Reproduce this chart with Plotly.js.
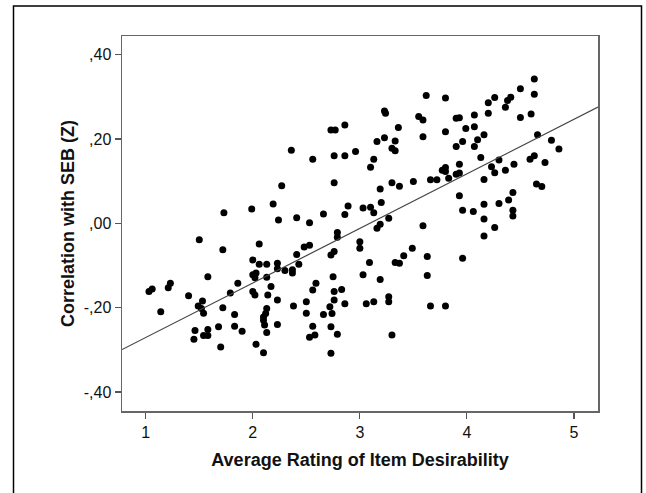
<!DOCTYPE html>
<html>
<head>
<meta charset="utf-8">
<script src="https://cdn.plot.ly/plotly-3.0.1.min.js"></script>
<style>
html,body{margin:0;padding:0;background:#fff;}
#chart{width:646px;height:493px;}
</style>
</head>
<body>
<div id="chart"></div>
<script>
// Average rating of item desirability (x) vs correlation with SEB (Z) (y)
const desirability = [
  1.03,1.06,1.14,1.21,1.23,1.40,1.50,1.53,1.49,1.52,1.54,1.46,1.45,1.54,1.58,1.58,
  1.58,1.72,1.68,1.70,1.72,1.73,1.79,1.83,1.83,1.86,1.90,
  1.99,2.00,2.06,2.06,2.13,2.00,2.02,2.03,2.00,2.02,2.03,2.10,
  2.13,2.14,2.17,2.13,2.12,2.10,2.10,2.11,2.13,
  2.19,2.24,2.23,2.23,2.23,2.23,2.27,2.30,2.36,2.37,2.37,2.38,2.41,2.41,2.43,2.48,2.50,2.50,
  2.53,2.53,2.53,2.56,2.56,2.59,2.56,2.58,2.66,2.66,
  2.73,2.77,2.76,2.76,2.86,2.86,2.96,
  2.73,2.76,2.75,2.76,2.76,2.72,2.74,2.73,2.73,2.79,2.79,2.79,2.83,2.86,2.86,2.89,
  3.00,3.00,3.03,3.10,3.13,3.20,3.27,3.19,3.16,
  3.09,3.33,3.37,3.41,3.49,
  3.03,3.19,3.06,3.13,3.27,3.27,3.30,
  3.23,3.24,3.16,3.23,3.33,3.36,3.30,3.33,3.13,3.10,3.19,3.30,3.37,3.50,
  3.55,3.59,3.62,3.59,3.66,3.72,3.80,3.80,3.77,3.80,3.80,3.83,3.90,3.93,3.90,3.90,3.93,3.93,3.96,3.93,3.96,3.99,
  3.59,3.63,3.63,3.66,3.80,3.96,
  4.07,4.07,4.07,4.10,4.06,4.16,4.13,4.16,4.16,4.16,4.16,4.20,4.20,4.26,4.23,4.26,4.30,4.30,4.26,
  4.36,4.38,4.41,4.36,4.44,4.39,4.43,4.43,4.43,4.50,4.50,4.60,4.63,4.63,4.59,4.63,4.66,4.65,4.70,4.73,4.79,4.86
];
const correlationSEB = [
  -0.162,-0.156,-0.210,-0.153,-0.142,-0.172,-0.039,-0.184,-0.196,-0.202,-0.213,-0.254,-0.275,-0.266,-0.266,-0.252,
  -0.127,-0.200,-0.245,-0.293,-0.063,0.025,-0.165,-0.216,-0.244,-0.142,-0.256,
  0.034,-0.087,-0.049,-0.097,-0.097,-0.122,-0.129,-0.118,-0.162,-0.170,-0.287,-0.307,
  -0.128,-0.170,-0.150,-0.202,-0.214,-0.222,-0.230,-0.241,-0.259,
  0.046,0.008,-0.095,-0.108,-0.182,-0.240,0.089,-0.112,0.173,-0.110,-0.118,-0.196,0.013,-0.074,-0.097,-0.056,-0.186,-0.213,
  0.001,-0.052,-0.270,0.152,-0.158,-0.142,-0.244,-0.265,0.022,-0.216,
  0.221,0.221,0.096,0.160,0.233,0.160,0.170,
  -0.075,-0.067,-0.127,-0.162,-0.182,-0.198,-0.214,-0.245,-0.308,-0.263,-0.022,-0.033,-0.157,-0.191,0.021,0.041,
  -0.044,-0.059,0.036,0.038,0.025,0.049,0.012,-0.002,-0.012,
  -0.093,-0.093,-0.095,-0.077,-0.059,
  -0.122,-0.133,-0.191,-0.186,-0.174,-0.186,-0.265,
  0.266,0.261,0.194,0.203,0.195,0.227,0.178,0.172,0.152,0.133,0.081,0.096,0.088,0.099,
  0.253,0.245,0.303,0.205,0.103,0.103,0.297,0.217,0.126,0.132,0.123,0.107,0.249,0.250,0.182,0.116,0.119,0.140,0.194,0.065,0.031,0.225,
  -0.006,-0.079,-0.124,-0.196,-0.196,-0.083,
  0.257,0.229,0.182,0.198,0.028,0.210,0.156,0.104,0.045,0.010,-0.030,0.286,0.261,0.298,0.134,0.120,0.150,0.047,-0.010,
  0.275,0.291,0.299,0.126,0.140,0.055,0.073,0.031,0.017,0.319,0.251,0.259,0.342,0.306,0.152,0.160,0.210,0.093,0.087,0.144,0.197,0.176
];
// Fit line: y = intercept + slope * x
const fitIntercept = [-0.400];
const fitSlope = [0.1293];
const xTickVals = [1,2,3,4,5];
const xTickText = ['1','2','3','4','5'];
const yTickVals = [0.4,0.2,0,-0.2,-0.4];
const yTickText = [',40',',20',',00','-,20','-,40'];

const xRange = [0.778, 5.225];
const yRange = [-0.445, 0.444];

const fitX = xRange.slice();
const fitY = fitX.map(x => fitIntercept[0] + fitSlope[0]*x);

const traces = [
  {
    x: desirability, y: correlationSEB, type: 'scatter', mode: 'markers',
    marker: {color: '#000', size: 7, line: {width: 0}},
    hoverinfo: 'x+y', showlegend: false
  },
  {
    x: fitX, y: fitY, type: 'scatter', mode: 'lines',
    line: {color: '#444', width: 1.2}, hoverinfo: 'skip', showlegend: false
  }
];

const fam = 'Liberation Sans, Arial, sans-serif';
const tickFont = {family: fam, size: 16, color: '#111'};
const titleFont = {family: fam, size: 18, color: '#111'};
const layout = {
  width: 646, height: 493,
  margin: {l: 122, r: 48, t: 36, b: 82},
  paper_bgcolor: '#fff', plot_bgcolor: '#fff',
  font: {family: fam, color: '#000'},
  xaxis: {
    range: xRange, tickvals: xTickVals, ticktext: xTickText,
    ticks: 'outside', ticklen: 6, tickwidth: 1.2, tickcolor: '#555',
    showline: true, mirror: true, linecolor: '#666', linewidth: 1.5,
    showgrid: false, zeroline: false,
    tickfont: tickFont,
    title: {text: '<b>Average Rating of Item Desirability</b>', font: titleFont, standoff: 13}
  },
  yaxis: {
    range: yRange, tickvals: yTickVals, ticktext: yTickText,
    ticks: 'outside', ticklen: 6, tickwidth: 1.2, tickcolor: '#555',
    showline: true, mirror: true, linecolor: '#666', linewidth: 1.5,
    showgrid: false, zeroline: false,
    tickfont: tickFont,
    title: {text: '<b>Correlation with SEB (Z)</b>', font: titleFont, standoff: 4}
  },
  shapes: [{
    type: 'rect', xref: 'paper', yref: 'paper',
    x0: (13.5-122)/476, x1: (641.5-122)/476,
    y0: (411-520)/375, y1: (411-6)/375,
    line: {color: '#000', width: 1.5}, fillcolor: 'rgba(0,0,0,0)', layer: 'below'
  }]
};

Plotly.newPlot('chart', traces, layout, {displayModeBar: false, staticPlot: true});
</script>
</body>
</html>
